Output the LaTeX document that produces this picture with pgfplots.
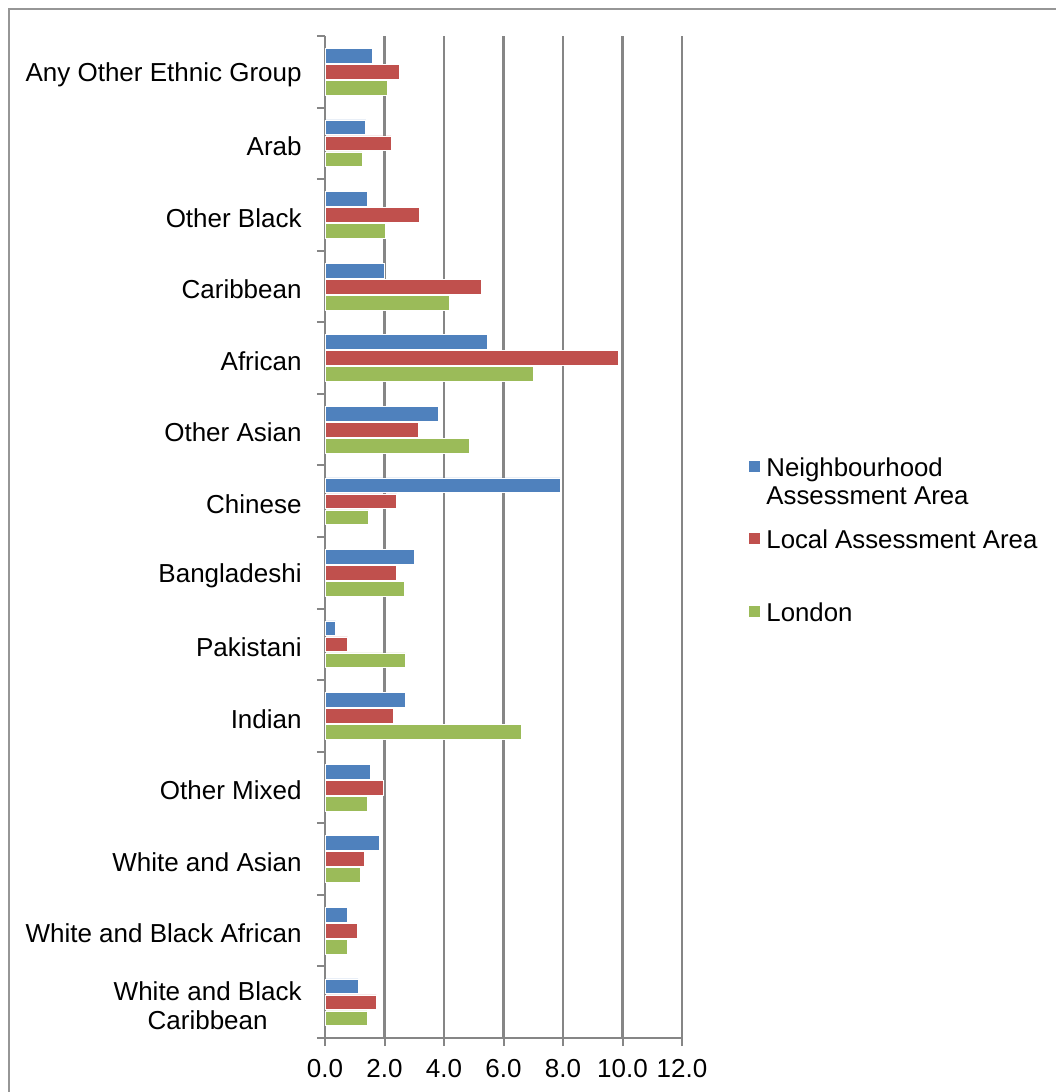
\documentclass[border=0pt]{standalone}
\usepackage{pgfplots}
\pgfplotsset{compat=1.18}
\usepackage{pgfplotstable}
\usepackage{fontspec}
\setmainfont{Liberation Sans}
\definecolor{cBlue}{HTML}{4F81BD}
\definecolor{cRed}{HTML}{C0504D}
\definecolor{cGreen}{HTML}{9BBB59}
\definecolor{cGrid}{RGB}{134,134,134}
\definecolor{cBorder}{RGB}{150,150,150}
\pgfplotstableread{
idx nbh local london
0  1.11 1.73 1.41
1  0.74 1.08 0.74
2  1.83 1.32 1.18
3  1.52 1.95 1.41
4  2.70 2.29 6.61
5  0.36 0.76 2.69
6  3.01 2.38 2.67
7  7.90 2.41 1.47
8  3.80 3.14 4.84
9  5.47 9.87 6.99
10 2.01 5.25 4.17
11 1.42 3.16 2.04
12 1.37 2.22 1.25
13 1.59 2.50 2.09
}\datatable
\begin{document}
\begin{tikzpicture}
\path[use as bounding box] (0,0) rectangle (528pt,546pt);
\draw[cBorder, line width=0.75pt] (4.5pt,0) -- (4.5pt,541.5pt) -- (528pt,541.5pt);
\begin{axis}[
  at={(162.5pt,27pt)}, anchor=south west,
  scale only axis, width=178.5pt, height=501pt,
  xbar, bar width=7.4pt,
  xmin=0, xmax=12, ymin=-0.5, ymax=13.5,
  axis x line*=bottom, axis y line*=left,
  axis line style={-, draw=cGrid, line width=1pt},
  xtick={0,2,...,12},
  xticklabel style={/pgf/number format/fixed, /pgf/number format/fixed zerofill, /pgf/number format/precision=1, /pgf/number format/assume math mode=true},
  ytick={0,...,13},
  yticklabels={{White and Black\\Caribbean},White and Black African,White and Asian,Other Mixed,Indian,Pakistani,Bangladeshi,Chinese,Other Asian,African,Caribbean,Other Black,Arab,Any Other Ethnic Group},
  minor ytick={-0.5,0.5,...,13.5},
  tick align=outside,
  major tick length=4pt, minor tick length=4pt,
  major y tick style={draw=none},
  tick style={draw=cGrid, line width=1pt},
  xtick pos=bottom, ytick pos=left,
  xmajorgrids=true,
  major grid style={draw=cGrid, line width=1.1pt},
  ticklabel style={font=\fontsize{13}{14.5}\selectfont},
  yticklabel style={align=center, inner sep=0pt, xshift=-7.5pt, yshift=-1.5pt},
  xticklabel style={inner sep=0pt, yshift=-6.5pt},
]
\addplot[fill=cBlue, draw=white, line width=0.3pt, bar shift=8pt] table[x=nbh, y=idx] {\datatable};
\addplot[fill=cRed, draw=white, line width=0.3pt, bar shift=0pt] table[x=local, y=idx] {\datatable};
\addplot[fill=cGreen, draw=white, line width=0.3pt, bar shift=-8pt] table[x=london, y=idx] {\datatable};
\end{axis}
% legend
\begin{scope}[every node/.style={anchor=base west, inner sep=0pt, font=\fontsize{12.9}{14}\selectfont}]
\fill[cBlue] (374.5pt,309.75pt) rectangle (380pt,315.25pt);
\node at (383pt,307.5pt) {Neighbourhood};
\node at (383pt,293.5pt) {Assessment Area};
\fill[cRed] (374.5pt,273.75pt) rectangle (380pt,279.25pt);
\node at (383pt,271.5pt) {Local Assessment Area};
\fill[cGreen] (374.5pt,237.25pt) rectangle (380pt,242.75pt);
\node at (383pt,235pt) {London};
\end{scope}
\end{tikzpicture}
\end{document}
